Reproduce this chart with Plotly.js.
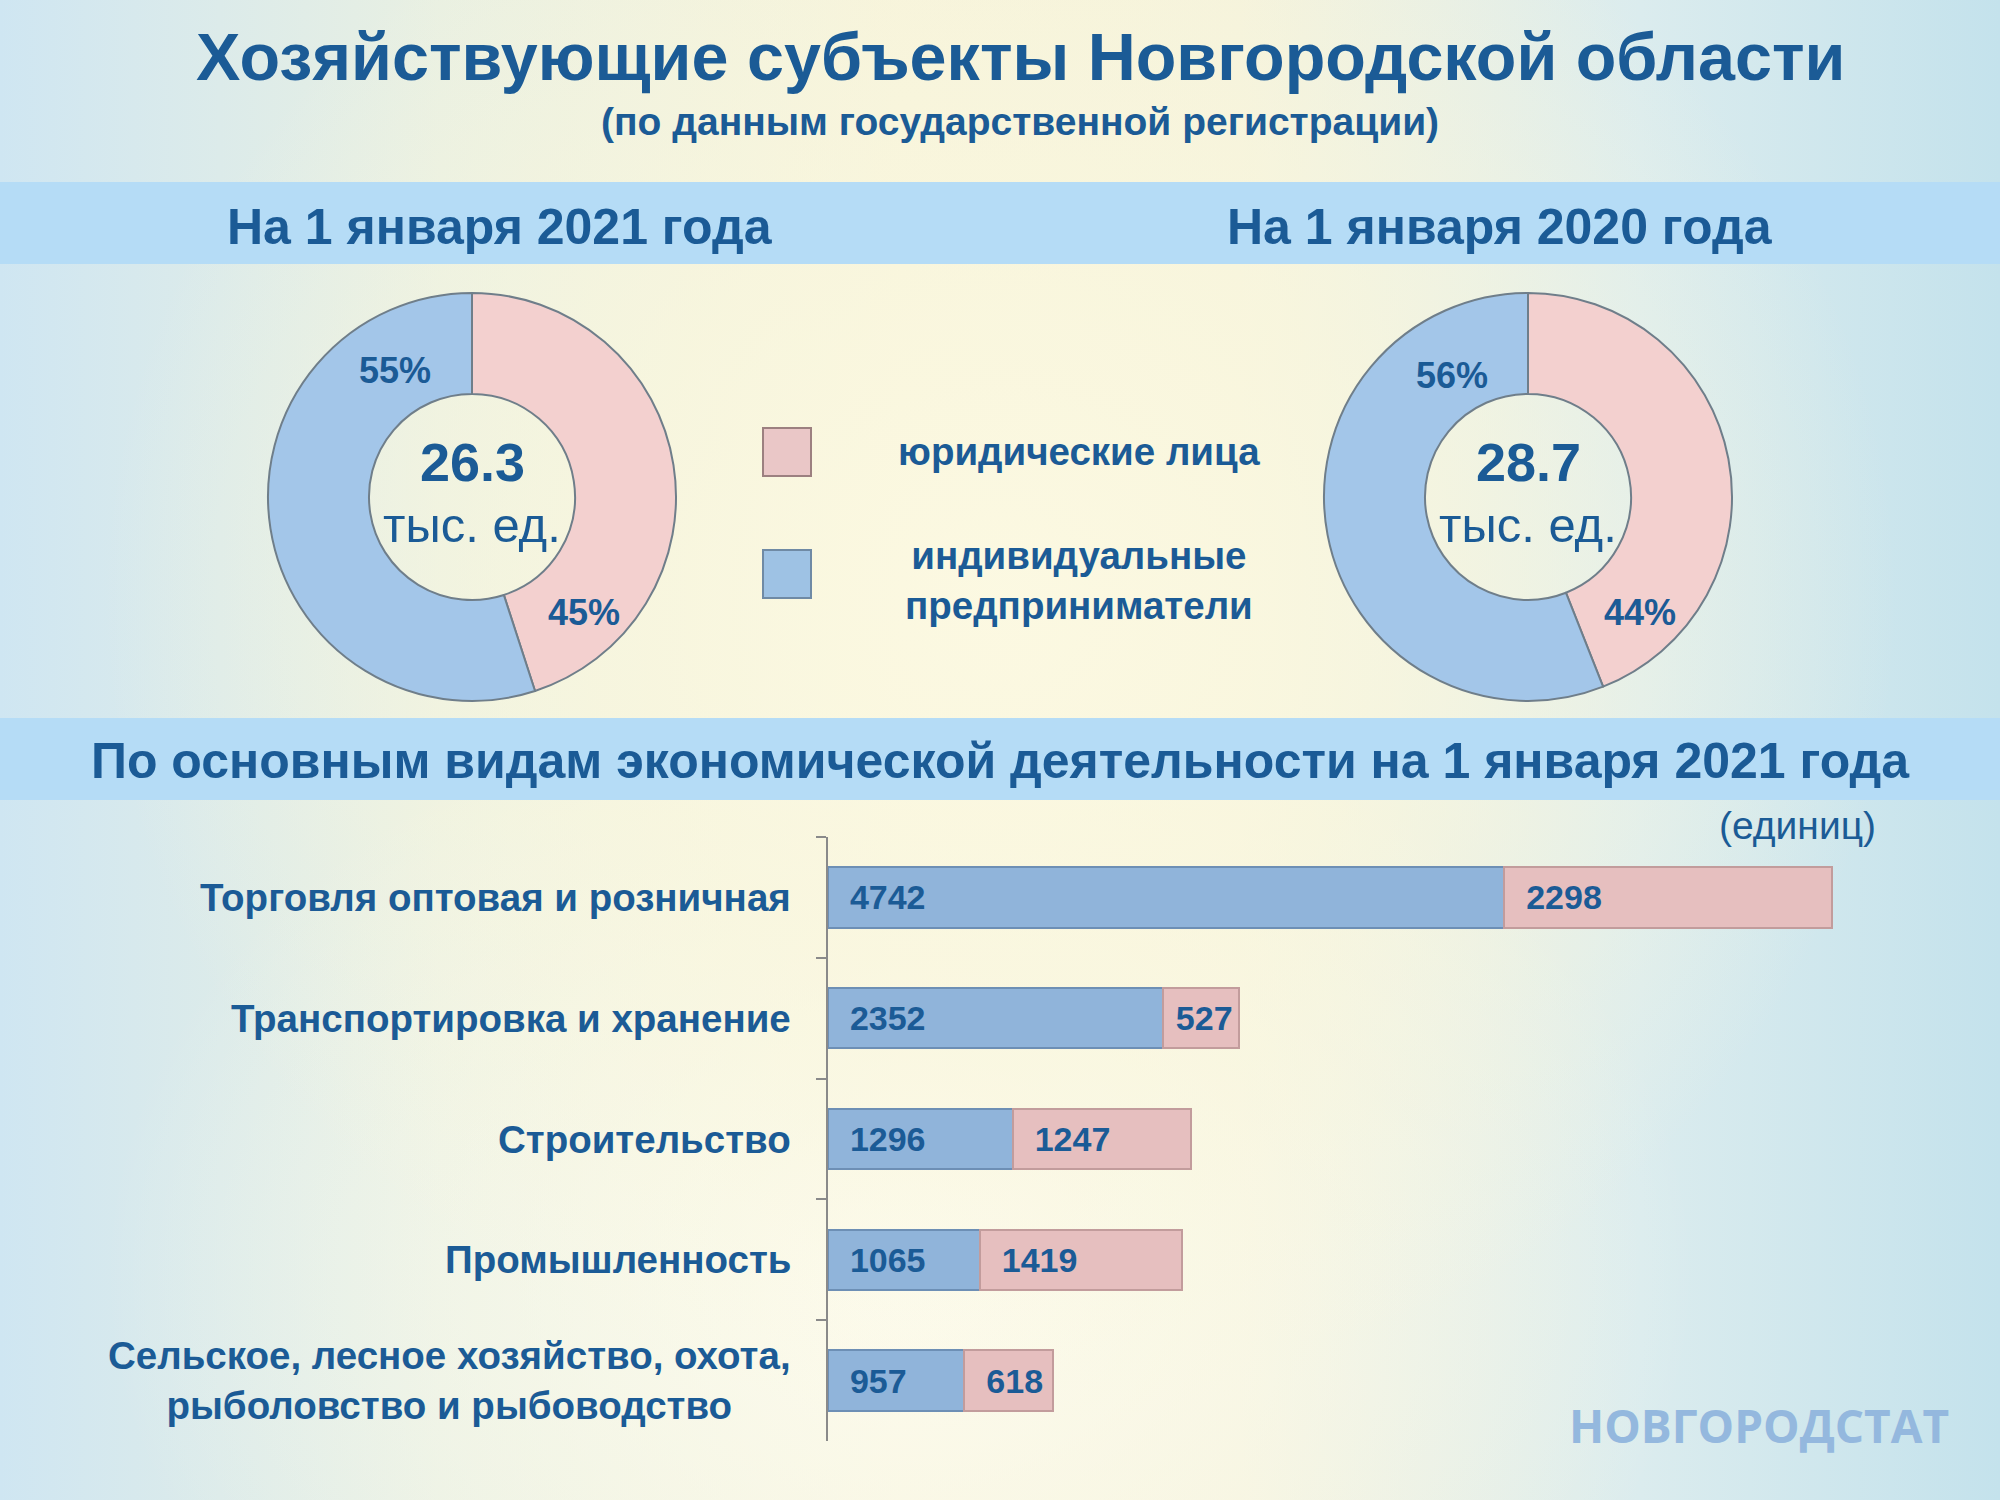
<!DOCTYPE html>
<html>
<head>
<meta charset="utf-8">
<script src="https://cdn.plot.ly/plotly-3.0.1.min.js"></script>
<style>
html,body{margin:0;padding:0;width:2000px;height:1500px;overflow:hidden;}
body{
  background:
    radial-gradient(ellipse 45% 55% at 50% 40%, rgba(252,249,226,0.95) 0%, rgba(250,247,222,0.7) 45%, rgba(250,247,222,0) 100%),
    radial-gradient(ellipse 40% 40% at 45% 85%, rgba(253,252,240,0.9) 0%, rgba(253,252,240,0) 100%),
    linear-gradient(90deg, #cfe6f2 0%, #e9f0e2 22%, #f6f3da 45%, #f4f2db 62%, #dbecee 82%, #c4e2ec 100%);
}
#chart{width:2000px;height:1500px;}
</style>
</head>
<body>
<div id="chart"></div>
<script>
// ---- data ----
var donutLabels = ["юридические лица", "индивидуальные предприниматели"];
var share2021 = [45, 55];
var share2020 = [44, 56];
var total2021 = "26.3";
var total2020 = "28.7";

var categories = [
  "Торговля оптовая и розничная",
  "Транспортировка и хранение",
  "Строительство",
  "Промышленность",
  "Сельское, лесное хозяйство, охота,<br>рыболовство и рыбоводство"
];
var ipValues = [4742, 2352, 1296, 1065, 957];
var ulValues = [2298, 527, 1247, 1419, 618];

// ---- styles ----
var txtColor = "#1b5b96";
var pinkPie = "#f3d0cf", bluePie = "#a3c6e9";
var pinkBar = "#e6bfbf", blueBar = "#90b4da";
var FONT = "Liberation Sans, Arial, sans-serif";
var NB = "\u00a0";

function pct(arr, i){ var s = arr.reduce(function(a,b){return a+b;},0); return Math.round(arr[i]/s*100) + "%"; }
function barText(v){ return (v >= 600 ? NB + NB : NB) + String(v); }

var traces = [
  {
    type: "pie", values: share2021, labels: donutLabels, sort: false,
    direction: "clockwise", rotation: 0, hole: 0.505,
    domain: {x: [0.134, 0.338], y: [0.5327, 0.8047]},
    marker: {colors: [pinkPie, bluePie], line: {color: "#6f7e8a", width: 2}},
    textinfo: "none", hoverinfo: "label+percent", showlegend: false
  },
  {
    type: "pie", values: share2020, labels: donutLabels, sort: false,
    direction: "clockwise", rotation: 0, hole: 0.505,
    domain: {x: [0.662, 0.866], y: [0.5327, 0.8047]},
    marker: {colors: [pinkPie, bluePie], line: {color: "#6f7e8a", width: 2}},
    textinfo: "none", hoverinfo: "label+percent", showlegend: false
  },
  {
    type: "bar", orientation: "h", y: categories, x: ipValues,
    name: donutLabels[1], width: 0.5,
    marker: {color: blueBar, line: {color: "#6d8fb5", width: 2}},
    text: ipValues.map(barText), textposition: "inside", insidetextanchor: "start",
    constraintext: "none", cliponaxis: false,
    textfont: {family: FONT, size: 34, color: txtColor, weight: "bold"},
    showlegend: false
  },
  {
    type: "bar", orientation: "h", y: categories, x: ulValues,
    name: donutLabels[0], width: 0.5,
    marker: {color: pinkBar, line: {color: "#c29c9c", width: 2}},
    text: ulValues.map(barText), textposition: "inside", insidetextanchor: "start",
    constraintext: "none", cliponaxis: false,
    textfont: {family: FONT, size: 34, color: txtColor, weight: "bold"},
    showlegend: false
  }
];

function ann(text, x, y, size, opts){
  var a = {text: text, x: x, y: y, xref: "paper", yref: "paper", showarrow: false,
    xanchor: "center", yanchor: "middle",
    font: {family: FONT, size: size, color: txtColor, weight: "bold"}};
  for (var k in (opts||{})) a[k] = opts[k];
  return a;
}

var annotations = [
  ann("Хозяйствующие субъекты Новгородской области", 0.51, 0.962, 66.5),
  ann("(по данным государственной регистрации)", 0.51, 0.919, 39),
  ann("На 1 января 2021 года", 0.25, 0.849, 50),
  ann("На 1 января 2020 года", 0.75, 0.849, 50),
  ann(total2021, 0.236, 0.692, 54),
  ann("тыс. ед.", 0.236, 0.65, 49, {font: {family: FONT, size: 49, color: txtColor}}),
  ann(total2020, 0.764, 0.692, 54),
  ann("тыс. ед.", 0.764, 0.65, 49, {font: {family: FONT, size: 49, color: txtColor}}),
  ann(pct(share2021, 1), 0.1975, 0.7533, 36),
  ann(pct(share2021, 0), 0.292, 0.592, 36),
  ann(pct(share2020, 1), 0.726, 0.75, 36),
  ann(pct(share2020, 0), 0.82, 0.592, 36),
  ann(donutLabels[0], 0.5395, 0.6987, 38.5),
  ann("индивидуальные<br>предприниматели", 0.5395, 0.6133, 38.5),
  ann("По основным видам экономической деятельности на 1 января 2021 года", 0.5, 0.4927, 50),
  ann("(единиц)", 0.939, 0.45, 39, {xanchor: "right", font: {family: FONT, size: 39, color: txtColor}}),
  ann("НОВГОРОДСТАТ", 0.8795, 0.05, 46, {font: {family: "Open Sans, sans-serif", size: 46, color: "#94b8de", weight: "bold"}})
];

categories.forEach(function(c){
  annotations.push({text: c, x: 0.3965, y: c, xref: "paper", yref: "y", showarrow: false,
    xanchor: "right", yanchor: "middle", align: "center",
    font: {family: FONT, size: 38.5, color: txtColor, weight: "bold"}});
});

var shapes = [
  {type: "rect", xref: "paper", yref: "paper", x0: 0, x1: 1, y0: 0.824, y1: 0.8787,
   fillcolor: "#b5dcf6", line: {width: 0}, layer: "below"},
  {type: "rect", xref: "paper", yref: "paper", x0: 0, x1: 1, y0: 0.4667, y1: 0.5213,
   fillcolor: "#b5dcf6", line: {width: 0}, layer: "below"},
  {type: "rect", xref: "paper", yref: "paper", x0: 0.3815, x1: 0.4055, y0: 0.6827, y1: 0.7147,
   fillcolor: "#eac7c7", line: {color: "#9c8080", width: 2}},
  {type: "rect", xref: "paper", yref: "paper", x0: 0.3815, x1: 0.4055, y0: 0.6013, y1: 0.6333,
   fillcolor: "#9ec2e4", line: {color: "#6f8aa5", width: 2}}
];

var layout = {
  width: 2000, height: 1500,
  margin: {l: 0, r: 0, t: 0, b: 0},
  paper_bgcolor: "rgba(0,0,0,0)", plot_bgcolor: "rgba(0,0,0,0)",
  barmode: "stack",
  font: {family: FONT, color: txtColor},
  xaxis: {domain: [0.414, 0.95], range: [0, 7517], visible: false, fixedrange: true},
  yaxis: {domain: [0.0393, 0.442], type: "category", autorange: "reversed",
    showticklabels: false, ticks: "outside", tickson: "boundaries", ticklen: 10,
    tickcolor: "#8a8a8a", tickwidth: 2, showline: true, linecolor: "#8a8a8a", linewidth: 2,
    showgrid: false, zeroline: false},
  annotations: annotations,
  shapes: shapes,
  showlegend: false
};

Plotly.newPlot("chart", traces, layout, {displayModeBar: false, staticPlot: true});
</script>
</body>
</html>
